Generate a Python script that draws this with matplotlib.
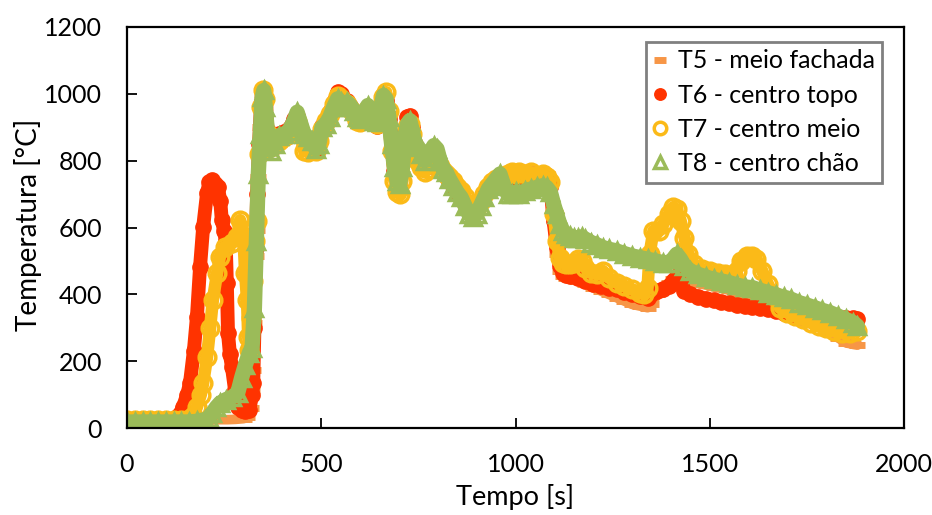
import matplotlib.pyplot as plt

plt.rcParams['font.family'] = ['Lato', 'DejaVu Sans']

# (tempo [s], temperatura [C]) for each thermocouple
T5_pts = [(0,22),(20,22),(40,22),(60,22),(80,22),(100,22),(120,22),(140,22),(160,23),(180,23),(200,24),
          (220,24),(240,25),(260,25),(280,26),(300,28),(310,32),(318,60),(322,114),(325,174),(328,314),
          (331,515),(334,592),(338,750),(343,900),(348,1000),(352,1010),(356,960),(362,870),(370,830),
          (380,835),(392,850),(405,860),(418,870),(430,890),(438,910),(446,880),(456,840),(466,830),
          (476,835),(486,825),(494,850),(502,890),(512,910),(522,935),(532,965),(542,990),(550,985),
          (558,960),(566,965),(575,950),(584,935),(592,915),(600,910),(610,930),(620,950),(628,935),
          (636,910),(644,905),(652,935),(660,980),(667,990),(674,940),(681,830),(688,750),(695,715),
          (702,710),(709,760),(716,860),(722,900),(728,905),(734,875),(742,830),(750,805),(758,785),
          (766,770),(774,780),(782,800),(790,815),(798,800),(806,785),(814,770),(822,760),(830,745),
          (840,735),(850,715),(860,700),(870,680),(880,660),(890,650),(900,655),(910,675),(920,700),
          (930,720),(940,735),(950,745),(960,755),(970,760),(980,765),(990,770),(1000,770),(1010,772),
          (1025,770),(1040,772),(1055,770),(1070,768),(1080,760),(1090,740),(1098,640),(1106,520),
          (1114,470),(1122,455),(1130,450),(1140,445),(1160,440),(1180,430),(1200,420),(1220,410),
          (1240,400),(1260,390),(1280,380),(1300,370),(1320,365),(1340,360),(1350,370),(1365,400),
          (1380,420),(1395,435),(1405,445),(1415,450),(1425,445),(1435,440),(1450,438),(1470,432),
          (1490,428),(1510,422),(1530,418),(1550,412),(1570,405),(1590,398),(1610,390),(1630,375),
          (1650,360),(1670,345),(1690,338),(1710,332),(1730,325),(1750,318),(1770,310),(1790,300),
          (1810,285),(1830,270),(1850,255),(1870,250),(1880,248)]

T6_pts = [(0,25),(20,25),(40,25),(60,25),(80,25),(100,25),(120,27),(135,40),(144,63),(155,100),(162,134),
          (172,230),(180,333),(188,482),(196,601),(206,703),(212,735),(219,742),(226,730),(234,721),
          (240,680),(244,622),(250,590),(254,560),(257,434),(260,284),(265,220),(270,183),(278,114),
          (286,63),(295,55),(305,50),(315,55),(322,100),(325,134),(328,300),(331,540),(335,700),
          (340,850),(345,970),(350,1015),(356,980),(362,890),(370,850),(380,860),(392,880),(405,885),
          (418,895),(430,925),(438,935),(446,905),(456,875),(466,865),(476,855),(486,835),(494,860),
          (502,905),(512,920),(522,945),(532,975),(542,1005),(550,1000),(558,975),(566,980),(575,965),
          (584,950),(592,930),(600,915),(610,930),(620,955),(628,935),(636,910),(644,905),(652,940),
          (660,985),(667,980),(674,925),(681,840),(688,770),(695,730),(702,720),(709,790),(716,890),
          (722,930),(728,935),(734,900),(742,850),(750,830),(758,810),(766,790),(774,800),(782,815),
          (790,830),(798,815),(806,790),(814,770),(822,755),(830,740),(840,725),(850,705),(860,690),
          (870,670),(880,650),(890,640),(900,650),(910,675),(920,700),(930,720),(940,735),(950,740),
          (960,745),(970,745),(980,750),(990,755),(1000,750),(1010,755),(1025,750),(1040,755),
          (1055,750),(1070,745),(1080,740),(1090,720),(1098,620),(1106,540),(1114,485),(1122,465),
          (1130,458),(1140,455),(1160,450),(1180,440),(1200,430),(1220,425),(1240,420),(1260,415),
          (1280,408),(1300,400),(1320,395),(1340,390),(1350,400),(1365,410),(1380,415),(1395,425),
          (1405,440),(1415,455),(1425,430),(1435,410),(1450,400),(1470,392),(1490,387),(1510,382),
          (1530,377),(1550,373),(1570,369),(1590,366),(1610,363),(1630,360),(1650,355),(1670,350),
          (1690,345),(1710,342),(1730,340),(1750,338),(1770,336),(1790,335),(1810,333),(1830,332),
          (1850,330),(1870,328),(1880,325)]

T7_pts = [(0,25),(20,25),(40,25),(60,25),(80,25),(100,25),(120,25),(140,25),(160,27),(170,35),(180,63),
          (190,100),(196,134),(206,212),(214,300),(221,383),(232,464),(239,512),(252,542),(270,553),
          (283,571),(291,622),(299,592),(304,464),(309,383),(312,272),(315,233),(320,330),(325,440),
          (330,560),(335,620),(340,820),(345,960),(350,1010),(355,985),(362,880),(370,840),(380,850),
          (392,860),(405,870),(418,880),(430,900),(438,920),(446,880),(456,830),(466,825),(476,840),
          (486,830),(494,860),(502,895),(512,920),(522,940),(532,970),(542,995),(550,985),(558,965),
          (566,970),(575,955),(584,940),(592,920),(600,915),(610,935),(620,955),(628,940),(636,915),
          (644,910),(652,945),(660,990),(667,1005),(674,950),(681,830),(688,740),(695,705),(702,700),
          (709,740),(716,850),(722,900),(728,910),(734,880),(742,830),(750,800),(758,780),(766,765),
          (774,775),(782,800),(790,815),(798,800),(806,785),(814,770),(822,760),(830,750),(840,740),
          (850,720),(860,710),(870,690),(880,670),(890,655),(900,660),(910,680),(920,700),(930,720),
          (940,735),(950,745),(960,750),(970,755),(980,760),(990,765),(1000,760),(1010,765),(1025,760),
          (1040,765),(1055,755),(1070,760),(1080,750),(1090,735),(1098,640),(1106,560),(1114,510),
          (1122,495),(1130,490),(1140,490),(1150,495),(1160,505),(1170,500),(1180,480),(1195,465),
          (1210,460),(1225,470),(1240,450),(1260,435),(1280,425),(1300,415),(1320,405),(1330,400),
          (1340,420),(1345,520),(1355,590),(1370,590),(1380,610),(1395,640),(1405,660),(1415,655),
          (1425,620),(1435,570),(1445,520),(1460,490),(1480,475),(1500,470),(1520,465),(1540,460),
          (1560,458),(1570,470),(1580,500),(1595,515),(1610,515),(1620,505),(1635,470),(1650,430),
          (1665,395),(1680,360),(1700,345),(1720,335),(1740,325),(1760,315),(1780,305),(1800,300),
          (1820,290),(1840,285),(1860,285),(1880,290)]

T8_pts = [(0,18),(20,18),(40,18),(60,18),(80,18),(100,18),(120,18),(140,18),(160,18),(180,20),(200,25),
          (210,30),(220,45),(230,62),(240,75),(255,85),(270,92),(285,105),(295,150),(305,190),(315,225),
          (322,240),(328,360),(333,560),(338,760),(343,880),(348,990),(352,1010),(356,960),(362,880),
          (370,830),(380,850),(392,875),(405,880),(418,890),(430,920),(438,945),(446,915),(456,880),
          (466,870),(476,860),(486,835),(494,850),(502,900),(512,910),(522,930),(532,960),(542,985),
          (550,975),(558,960),(566,975),(575,965),(584,950),(592,930),(600,925),(610,945),(620,965),
          (628,945),(636,920),(644,915),(652,950),(660,995),(667,985),(674,930),(681,850),(688,780),
          (695,740),(702,730),(709,780),(716,870),(722,910),(728,920),(734,890),(742,850),(750,840),
          (758,820),(766,800),(774,810),(782,830),(790,845),(798,835),(806,800),(814,775),(822,765),
          (830,745),(840,725),(850,705),(860,690),(870,665),(880,640),(890,630),(900,640),(910,665),
          (920,690),(930,715),(940,730),(950,745),(960,760),(970,725),(980,700),(990,700),(1000,705),
          (1010,700),(1025,710),(1040,715),(1055,720),(1070,725),(1080,720),(1090,705),(1098,670),
          (1106,640),(1114,610),(1122,590),(1130,580),(1140,575),(1150,570),(1160,568),(1170,572),
          (1180,565),(1195,555),(1210,548),(1225,540),(1240,535),(1260,530),(1280,522),(1300,515),
          (1320,510),(1340,505),(1360,500),(1380,495),(1395,495),(1405,505),(1415,520),(1425,505),
          (1435,485),(1450,470),(1470,460),(1490,452),(1510,445),(1530,440),(1550,435),(1570,428),
          (1590,422),(1610,420),(1630,412),(1650,405),(1670,398),(1690,392),(1710,385),(1730,375),
          (1750,368),(1770,360),(1790,352),(1810,345),(1830,335),(1850,325),(1870,315),(1880,305)]

labels = ['T5 - meio fachada', 'T6 - centro topo', 'T7 - centro meio', 'T8 - centro chão']
colors = ['#F79646', '#FF3300', '#FBBA18', '#9BBB59']

fig = plt.figure(figsize=(9.32, 5.15), dpi=100)
ax = fig.add_axes([127/932, 1-428/515, 777/932, 401/515])

# marker, size, face, edge width, width of the dense band behind the markers
styles = [('_', 12, None, 5, 7),
          ('o', 11, None, 1, 10),
          ('o', 12, 'none', 2.5, 9),
          ('^', 11, 'none', 2.5, 11)]

for pts, lab, c, st in zip([T5_pts, T6_pts, T7_pts, T8_pts], labels, colors, styles):
    t = [p[0] for p in pts]
    T = [p[1] for p in pts]
    mk, ms, mfc, mew, lw = st
    ax.plot(t, T, '-', color=c, lw=lw, solid_capstyle='round', solid_joinstyle='round',
            label='_nolegend_')
    ax.plot(t, T, linestyle='none', marker=mk, ms=ms, mec=c,
            mfc=c if mfc is None else mfc, mew=mew, label=lab)

ax.set_xlim(0, 2000)
ax.set_ylim(0, 1200)
ax.set_xticks(range(0, 2001, 500))
ax.set_yticks(range(0, 1201, 200))
ax.tick_params(direction='in', length=7, width=1.3, labelsize=18, colors='black')
ax.tick_params(axis='y', pad=18)
ax.tick_params(axis='x', pad=18)
for s in ax.spines.values():
    s.set_linewidth(1.6)
    s.set_color('black')

fig.text(28/932, 1-225/515, 'Temperatura [°C]', rotation=90, ha='center', va='center', fontsize=20)
fig.text(515/932, 1-497/515, 'Tempo [s]', ha='center', va='center', fontsize=19.5)

leg = ax.legend(loc='upper right', bbox_to_anchor=(0.972, 0.963), fontsize=18,
                fancybox=False, framealpha=1, edgecolor='#808080', markerscale=0.75,
                handlelength=0.5, handletextpad=0.45, labelspacing=0.45,
                borderpad=0.3, borderaxespad=0)
leg.get_frame().set_linewidth(2)

fig.savefig('out.png', dpi=100)
